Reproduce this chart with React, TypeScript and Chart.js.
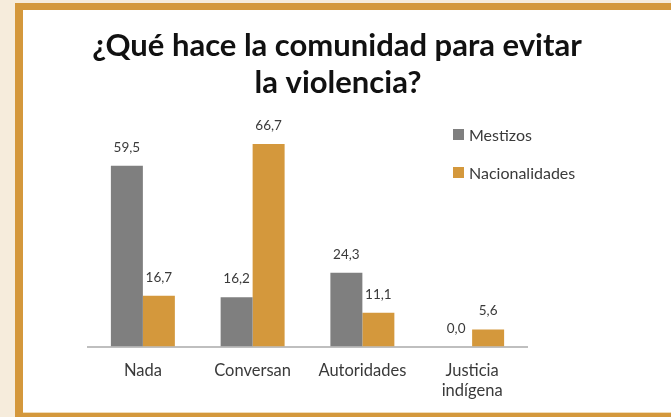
import React, { useEffect, useRef } from "react";
import { Chart, registerables } from "chart.js";

Chart.register(...registerables);

const categories: (string | string[])[] = ["Nada", "Conversan", "Autoridades", ["Justicia", "indígena"]];
const mestizos = [59.5, 16.2, 24.3, 0.0];
const nacionalidades = [16.7, 66.7, 11.1, 5.6];
const seriesNames = ["Mestizos", "Nacionalidades"];
const titleLines = ["¿Qué hace la comunidad para evitar", "la violencia?"];

const GRAY = "#7f7f7f";
const GOLD = "#d4983c";
const TEXT = "#3a3a3a";
const FONT = "Lato, 'Open Sans', sans-serif";

const fmt = (v: number) => v.toFixed(1).replace(".", ",");

const overlayPlugin = {
  id: "overlay",
  afterDatasetsDraw(chart: any) {
    const ctx = chart.ctx as CanvasRenderingContext2D;
    ctx.save();
    // data labels
    ctx.font = `13.5px ${FONT}`;
    ctx.fillStyle = TEXT;
    ctx.textAlign = "center";
    ctx.textBaseline = "alphabetic";
    chart.data.datasets.forEach((ds: any, di: number) => {
      const meta = chart.getDatasetMeta(di);
      meta.data.forEach((bar: any, i: number) => {
        ctx.fillText(fmt(ds.data[i]), bar.x, bar.y - 14);
      });
    });
    // title
    ctx.fillStyle = "#111111";
    ctx.font = `bold 31px ${FONT}`;
    ctx.textAlign = "center";
    ctx.fillText(titleLines[0], 314, 46);
    ctx.fillText(titleLines[1], 315, 83);
    // legend
    ctx.font = `16px ${FONT}`;
    ctx.textAlign = "left";
    chart.data.datasets.forEach((ds: any, di: number) => {
      const y = 119 + di * 38;
      ctx.fillStyle = ds.backgroundColor;
      ctx.fillRect(430, y, 11, 11);
      ctx.fillStyle = TEXT;
      ctx.fillText(ds.label, 446, y + 12);
    });
    ctx.restore();
  },
};

export default function App() {
  const ref = useRef<HTMLCanvasElement>(null);
  useEffect(() => {
    if (!ref.current) return;
    const chart = new Chart(ref.current, {
      type: "bar",
      data: {
        labels: categories,
        datasets: [
          { label: seriesNames[0], data: mestizos, backgroundColor: GRAY },
          { label: seriesNames[1], data: nacionalidades, backgroundColor: GOLD },
        ],
      },
      options: {
        responsive: false,
        animation: false,
        layout: { padding: { left: 65, right: 144, top: 93.5, bottom: 5.5 } },
        plugins: { legend: { display: false }, title: { display: false }, tooltip: { enabled: false } },
        datasets: { bar: { categoryPercentage: 0.583, barPercentage: 1 } } as any,
        scales: {
          x: {
            grid: { display: false, drawTicks: false },
            border: { display: true, color: "#bfbfbf", width: 2 },
            ticks: { color: TEXT, font: { family: FONT, size: 16.5, lineHeight: 1.2 }, padding: 14, maxRotation: 0, autoSkip: false },
            afterFit: (s: any) => { s.height = 60; },
          },
          y: { display: false, min: 0, max: 80 },
        },
      },
      plugins: [overlayPlugin],
    });
    return () => chart.destroy();
  }, []);
  return (
    <div style={{ position: "fixed", left: 0, top: 0, width: 671, height: 417, background: "#f6ecdc", overflow: "hidden" }}>
      <div
        style={{
          position: "absolute",
          left: 15,
          top: 3,
          width: 700,
          height: 420,
          boxSizing: "border-box",
          borderStyle: "solid",
          borderColor: GOLD,
          borderWidth: "7px 8px 8px 8px",
          background: "#ffffff",
        }}
      />
      <canvas ref={ref} width={648} height={402} style={{ position: "absolute", left: 23, top: 10, width: 648, height: 402 }} />
      <div style={{ position: "absolute", left: 23, top: 412, width: 671, height: 1, background: "#f0dcb8" }} />
      <div style={{ position: "absolute", left: 15, top: 413, width: 671, height: 4, background: GOLD }} />
    </div>
  );
}
